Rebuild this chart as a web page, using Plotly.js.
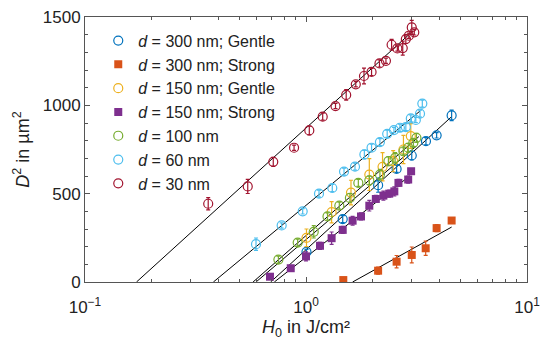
<!DOCTYPE html>
<html>
<head>
<meta charset="utf-8">
<script src="https://cdn.plot.ly/plotly-3.0.1.min.js"></script>
<style>html,body{margin:0;padding:0;background:#fff;}#chart{width:540px;height:347px;}</style>
</head>
<body>
<div id="chart"></div>
<script>
// ---- data ----
const seriesNames = [
  "<i>d</i> = 300 nm; Gentle",
  "<i>d</i> = 300 nm; Strong",
  "<i>d</i> = 150 nm; Gentle",
  "<i>d</i> = 150 nm; Strong",
  "<i>d</i> = 100 nm",
  "<i>d</i> = 60 nm",
  "<i>d</i> = 30 nm"
];

const xTickVals = [0.1, 1, 10];
const xTickText = ["10<sup>−1</sup>", "10<sup>0</sup>", "10<sup>1</sup>"];

// d = 300 nm, Gentle
const h300G = [1.005, 1.466, 2.12, 2.57, 3.01, 3.49, 3.90, 4.56];
const d300G = [170, 356, 548, 640, 716, 797, 830, 943];
const e300G = [15, 20, 40, 20, 25, 20, 15, 30];

// d = 300 nm, Strong
const h300S = [1.475, 2.12, 2.57, 3.01, 3.48, 3.90, 4.56];
const d300S = [11, 64, 115, 153, 191, 305, 348];
const e300S = [5, 20, 35, 45, 40, 20, 10];

// d = 150 nm, Gentle
const h150G = [1.005, 1.306, 1.598, 1.934, 2.22, 2.48, 2.76, 2.98];
const d150G = [250, 395, 506, 608, 652, 684, 750, 826];
const e150G = [50, 60, 70, 90, 80, 60, 80, 70];

// d = 150 nm, Strong
const h150S = [0.687, 0.853, 1.0, 1.157, 1.306, 1.466, 1.625, 1.774, 1.934, 2.07, 2.24, 2.38, 2.51, 2.62, 2.90, 2.99];
const d150S = [30, 78, 145, 205, 248, 295, 347, 371, 432, 470, 489, 500, 513, 561, 580, 627];
const e150S = [10, 15, 25, 20, 35, 20, 25, 20, 30, 20, 25, 20, 25, 20, 20, 15];

// d = 100 nm
const h100 = [0.750, 0.917, 1.084, 1.251, 1.415, 1.58, 1.725, 1.934, 2.16, 2.36, 2.53, 2.76, 2.90, 3.06, 3.16];
const d100 = [127, 223, 284, 371, 432, 476, 561, 575, 608, 684, 703, 740, 760, 788, 816];
const e100 = [20, 20, 35, 20, 20, 25, 20, 25, 30, 25, 30, 20, 25, 20, 25];

// d = 60 nm
const h60 = [0.594, 0.776, 0.966, 1.145, 1.315, 1.486, 1.666, 1.837, 1.98, 2.16, 2.33, 2.50, 2.66, 2.83, 2.98, 3.14, 3.28, 3.36];
const d60 = [214, 320, 400, 500, 532, 625, 653, 722, 760, 792, 839, 860, 873, 877, 926, 917, 953, 1010];
const e60 = [35, 15, 15, 20, 20, 20, 20, 25, 20, 20, 20, 15, 20, 20, 20, 15, 20, 20];

// d = 30 nm
const h30 = [0.361, 0.545, 0.711, 0.883, 1.035, 1.19, 1.36, 1.52, 1.68, 1.83, 1.98, 2.15, 2.30, 2.44, 2.59, 2.74, 2.83, 2.92, 3.01, 3.09];
const d30 = [443, 541, 680, 760, 858, 936, 996, 1059, 1119, 1166, 1189, 1237, 1252, 1343, 1322, 1324, 1375, 1394, 1441, 1413];
const e30 = [35, 40, 25, 15, 25, 20, 15, 30, 15, 45, 20, 20, 15, 30, 15, 40, 25, 15, 40, 15];

// linear fits D^2 = slope * log10(H0 / Hth), drawn from Hth to Hend
const fitHth   = [0.692, 1.625, 0.594, 0.719, 0.576, 0.381, 0.171];
const fitSlope = [1143, 694, 1060, 980, 1097, 1035, 1136];
const fitHend  = [4.56, 4.56, 3.15, 2.95, 3.24, 3.28, 3.05];

// ---- styling ----
const colors = ["#0072BD", "#D95319", "#EDB120", "#7E2F8E", "#77AC30", "#4DBEEE", "#A2142F"];
const filled = [false, true, false, true, false, false, false];
const xs = [h300G, h300S, h150G, h150S, h100, h60, h30];
const ys = [d300G, d300S, d150G, d150S, d100, d60, d30];
const es = [e300G, e300S, e150G, e150S, e100, e60, e30];

const traces = [];
for (let i = 0; i < fitHth.length; i++) {
  const xa = [fitHth[i], fitHend[i]];
  traces.push({
    x: xa,
    y: xa.map(h => fitSlope[i] * Math.log10(h / fitHth[i])),
    mode: "lines",
    line: {color: "#000", width: 1},
    showlegend: false,
    hoverinfo: "skip"
  });
}
for (let i = 0; i < seriesNames.length; i++) {
  traces.push({
    x: xs[i],
    y: ys[i],
    name: seriesNames[i],
    mode: "markers",
    type: "scatter",
    error_y: {type: "data", array: es[i], visible: true, color: colors[i], thickness: 1.2, width: 2},
    marker: filled[i]
      ? {symbol: "square", size: 8, color: colors[i], line: {width: 0}}
      : {symbol: "circle-open", size: 9, color: colors[i], line: {width: 1.2, color: colors[i]}}
  });
}

const font = "Arial, 'Liberation Sans', sans-serif";
const layout = {
  width: 540,
  height: 347,
  margin: {l: 85, r: 13, t: 17, b: 65, autoexpand: false},
  paper_bgcolor: "#fff",
  plot_bgcolor: "#fff",
  font: {family: font, color: "#222", size: 17},
  showlegend: true,
  legend: {
    x: 0.03, y: 0.975, xanchor: "left", yanchor: "top",
    bgcolor: "rgba(0,0,0,0)", borderwidth: 0,
    font: {family: font, size: 16, color: "#222"},
    tracegroupgap: 0, itemwidth: 30
  },
  xaxis: {
    type: "log",
    range: [-1, 1],
    tickmode: "array",
    tickvals: xTickVals,
    ticktext: xTickText,
    ticks: "inside",
    ticklen: 5,
    tickcolor: "#555",
    ticklabelstandoff: 10,
    ticklabeloverflow: "allow",
    automargin: false,
    showline: true,
    linecolor: "#555",
    linewidth: 1,
    mirror: "ticks",
    showgrid: false,
    zeroline: false,
    minor: {ticks: "inside", ticklen: 3, dtick: "D1", tickcolor: "#555", showgrid: false},
    tickfont: {size: 17, family: font, color: "#222"},
    title: {text: "<i>H</i><sub>0</sub> in J/cm²", font: {size: 18, family: font, color: "#222"}, standoff: 2}
  },
  yaxis: {
    range: [0, 1500],
    dtick: 500,
    ticks: "inside",
    ticklen: 5,
    tickcolor: "#555",
    showline: true,
    linecolor: "#555",
    linewidth: 1,
    mirror: "ticks",
    showgrid: false,
    zeroline: false,
    minor: {ticks: "inside", ticklen: 3, dtick: 100, tickcolor: "#555", showgrid: false},
    tickfont: {size: 17, family: font, color: "#222"},
    title: {text: "<i>D</i><sup>2</sup> in µm<sup>2</sup>", font: {size: 18, family: font, color: "#222"}, standoff: 8}
  }
};

Plotly.newPlot("chart", traces, layout, {displayModeBar: false, staticPlot: true});
</script>
</body>
</html>
